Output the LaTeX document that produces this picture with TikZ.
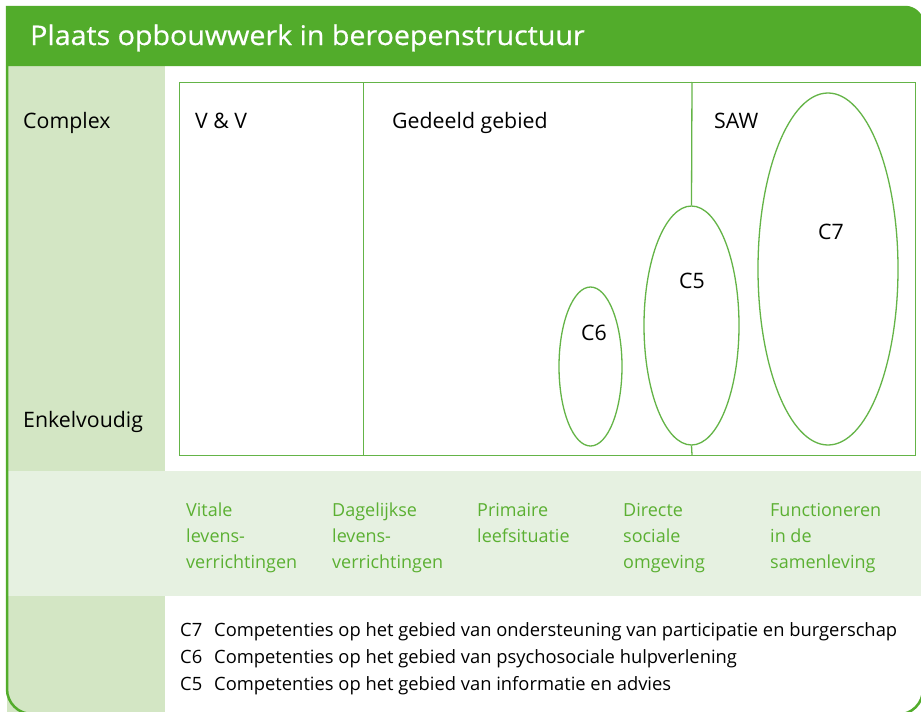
\documentclass[tikz,border=0pt]{standalone}
\usepackage{fontspec}
\setmainfont{Open Sans}
\newfontfamily\titlefont[FakeStretch=1.06, FakeBold=0.6]{Open Sans}
\usetikzlibrary{shapes.geometric}
\definecolor{hdr}{HTML}{52AC2B}
\definecolor{colbg}{HTML}{D3E6C4}
\definecolor{bandbg}{HTML}{E6F1E1}
\definecolor{ln}{HTML}{64B447}
\definecolor{lbl}{HTML}{5BB032}
\begin{document}
\begin{tikzpicture}[x=1pt,y=-1pt,
  lab/.style={anchor=base west, inner sep=0pt, font=\fontsize{21.3}{26}\selectfont},
  glab/.style={anchor=base west, inner sep=0pt, align=left, text=lbl, font=\fontsize{18}{26}\selectfont},
  leg/.style={anchor=base west, inner sep=0pt, align=left, font=\fontsize{18.35}{27}\selectfont},
  pl/.style={draw=ln, line width=1.3pt},
  ell/.style={ellipse, draw=ln, line width=1.3pt, inner sep=0pt}
]
\useasboundingbox (0,0) rectangle (921,712);
\begin{scope}
\clip (0,0) rectangle (921,712);
\fill[white] (0,0) rectangle (921,712);
% background bands
\fill[colbg] (7,66) rectangle (165,471);
\fill[bandbg] (7,471) rectangle (930,596);
\fill[colbg] (7,596) rectangle (165,720);
% header
\fill[hdr] (7,66) -- (7,7) -- (905,7) arc[start angle=-90, delta angle=90, radius=18] -- (923,66) -- cycle;
% outer border
\draw[hdr, line width=2.5pt] (7,7) -- (7,689) arc[start angle=180, delta angle=-90, radius=25]
  -- (898,714.5) arc[start angle=90, delta angle=-90, radius=25] -- (923,25)
  arc[start angle=0, delta angle=-90, radius=18] -- cycle;
\end{scope}
% title
\node[anchor=base west, inner sep=0pt, text=white, font=\titlefont\fontsize{27}{32}\selectfont] (title) at (30,45) {Plaats opbouwwerk in beroepenstructuur};
% plot box
\node[pl, anchor=north west, inner sep=0pt, minimum width=736pt, minimum height=373pt] (box) at (179,82) {};
\coordinate (d1t) at (363.3,82);
\coordinate (d1b) at (363.3,455);
\coordinate (d2t) at (692,82);
\coordinate (d2b) at (692,455);
% ellipses
\node[ell, minimum width=63pt, minimum height=159pt] (c6) at (590.5,366.5) {};
\node[ell, minimum width=95pt, minimum height=239pt] (c5) at (691.5,325.5) {};
\node[ell, minimum width=140pt, minimum height=352pt] (c7) at (828,269) {};
\draw[pl] (d1t) -- (d1b);
\draw[pl] (d2t) -- (c5.north);
\draw[pl] (c5.south) -- (d2b);
% labels
\node[lab] (complex) at (23,128) {Complex};
\node[lab] (enkel) at (23,427) {Enkelvoudig};
\node[lab] (vv) at (195,128) {V \& V};
\node[lab] (gedeeld) at (392,128) {Gedeeld gebied};
\node[lab] (saw) at (714,128) {SAW};
\node[lab] (t6) at (581,340) {C6};
\node[lab] (t5) at (679,288) {C5};
\node[lab] (t7) at (818,239) {C7};
% green axis labels (base anchor = last line baseline)
\node[glab] (g1) at (186,568) {Vitale\\levens-\\verrichtingen};
\node[glab] (g2) at (332,568) {Dagelijkse\\levens-\\verrichtingen};
\node[glab] (g3) at (477,542) {Primaire\\leefsituatie};
\node[glab] (g4) at (623,568) {Directe\\sociale\\omgeving};
\node[glab] (g5) at (770,568) {Functioneren\\in de\\samenleving};
% legend
\node[leg] (legend) at (180,690) {\makebox[34pt][l]{C7}Competenties op het gebied van ondersteuning van participatie en burgerschap\\
\makebox[34pt][l]{C6}Competenties op het gebied van psychosociale hulpverlening\\
\makebox[34pt][l]{C5}Competenties op het gebied van informatie en advies};
\end{tikzpicture}
\end{document}
